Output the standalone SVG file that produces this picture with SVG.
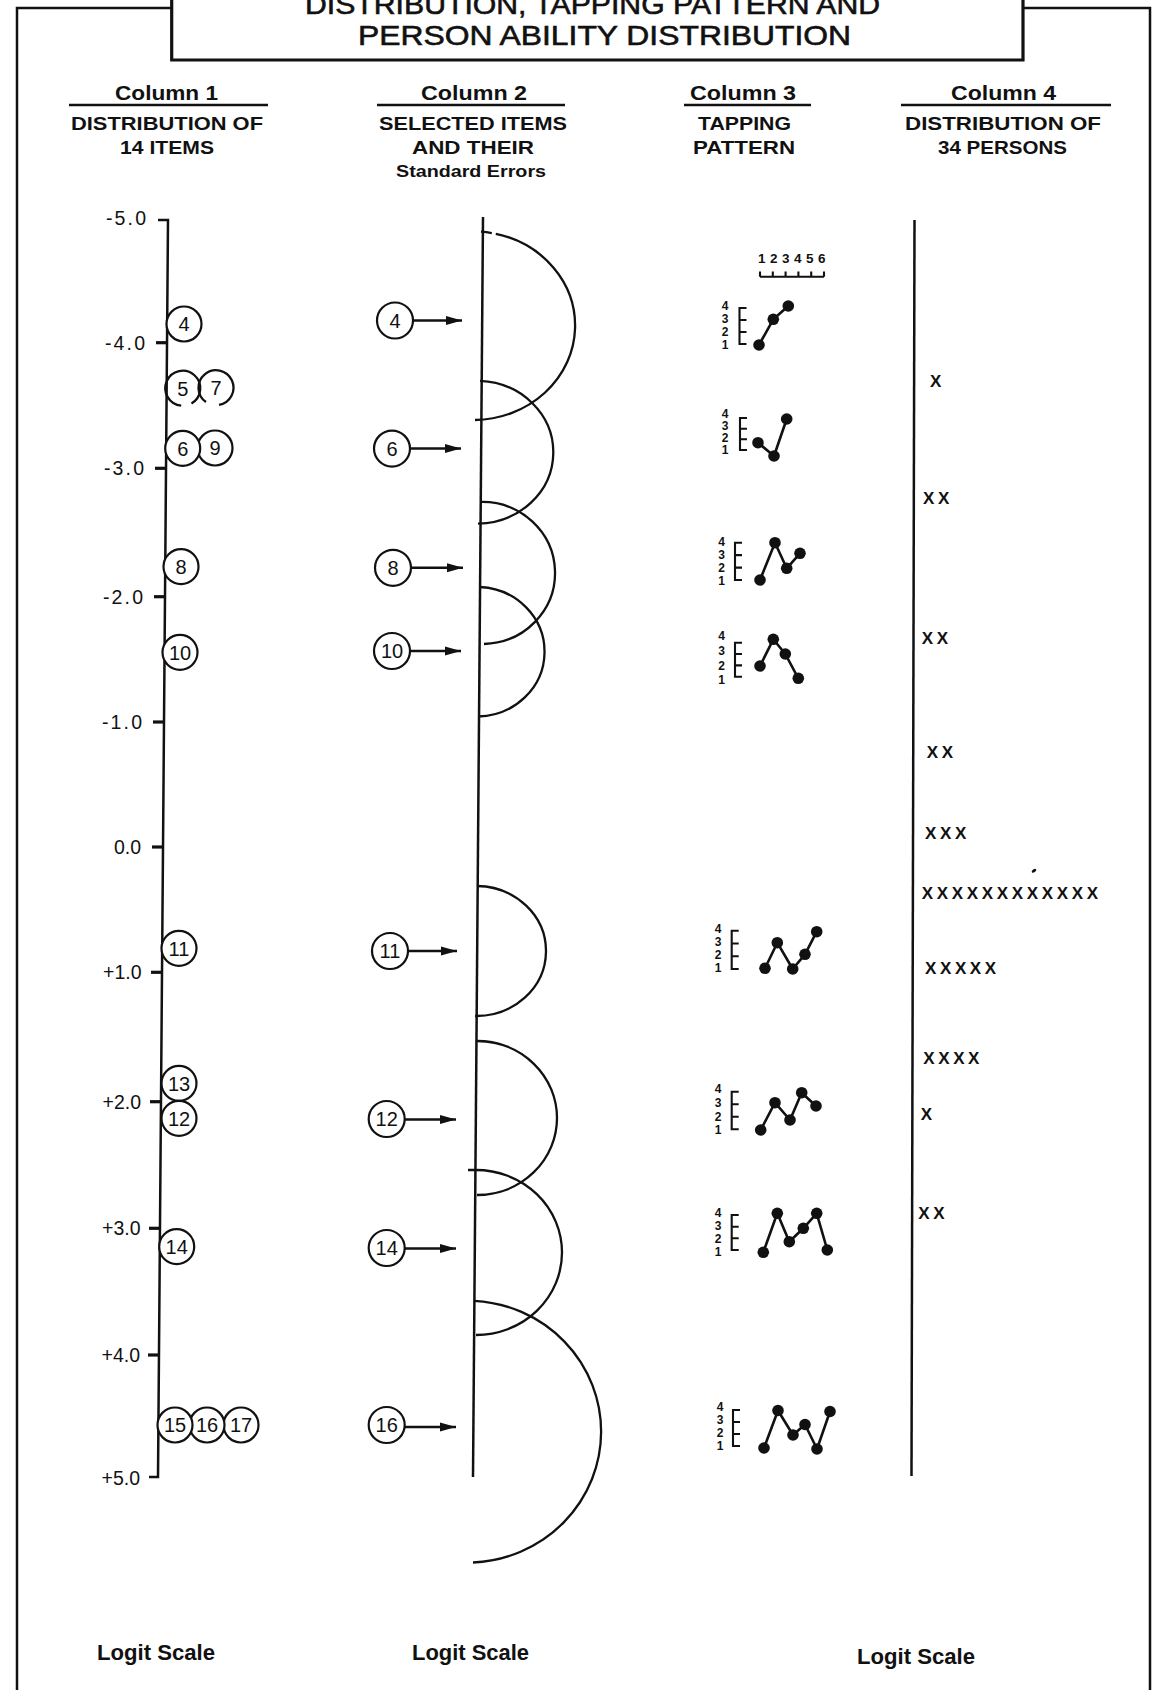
<svg xmlns="http://www.w3.org/2000/svg" width="1154" height="1690" viewBox="0 0 1154 1690">
<style>
text{font-family:"Liberation Sans",Arial,sans-serif;fill:#111}
.ttl{font-size:28px;stroke:#111;stroke-width:0.6}
.hd{font-size:21px;font-weight:bold}
.sub{font-size:18.5px;font-weight:bold}
.se{font-size:16px;font-weight:bold}
.ax{font-size:19.5px;text-anchor:end}
.num{font-size:20px;text-anchor:middle}
.dg{font-size:12px;font-weight:bold;text-anchor:middle}
.rl{font-size:13.5px;font-weight:bold;text-anchor:middle}
.xx{font-size:17px;font-weight:bold;letter-spacing:3.6px}
.ls{font-size:22px;font-weight:bold}
.ln{fill:none;stroke:#111;stroke-width:2.5}
.tick{fill:none;stroke:#111;stroke-width:3.2}
.thick{fill:none;stroke:#111;stroke-width:3.2}
.circ{fill:#fff;stroke:#111;stroke-width:2.2}
.arc{fill:none;stroke:#111;stroke-width:2.3}
.dot{fill:#111}
.pl{fill:none;stroke:#111;stroke-width:2.6;stroke-linejoin:round}
.br{fill:none;stroke:#111;stroke-width:2.1}
.arrow{fill:none;stroke:#111;stroke-width:2.5;marker-end:url(#ah)}
</style>
<defs>
<marker id="ah" markerUnits="userSpaceOnUse" markerWidth="18" markerHeight="10" refX="16" refY="5" orient="auto">
<path d="M0,0.5 L16,5 L0,9.5 z" fill="#111"/>
</marker>
</defs>
<rect width="1154" height="1690" fill="#fff"/>

<g id="frame">
<path class="ln" d="M17,1690 V8 H171.7"/>
<path class="ln" d="M1023,8 H1150 V1690"/>
<path class="thick" d="M171.7,-5 V60 H1023 V-5"/>
<text class="ttl" x="305" y="14" textLength="575" lengthAdjust="spacingAndGlyphs">DISTRIBUTION, TAPPING PATTERN AND</text>
<text class="ttl" x="358" y="45" textLength="493" lengthAdjust="spacingAndGlyphs">PERSON ABILITY DISTRIBUTION</text>
</g>

<g id="headers">
<text class="hd" x="115" y="100" textLength="103" lengthAdjust="spacingAndGlyphs">Column 1</text>
<line class="ln" x1="69" y1="105" x2="268" y2="105"/>
<text class="sub" x="71" y="130" textLength="192" lengthAdjust="spacingAndGlyphs">DISTRIBUTION OF</text>
<text class="sub" x="120" y="154" textLength="94" lengthAdjust="spacingAndGlyphs">14 ITEMS</text>

<text class="hd" x="421" y="100" textLength="106" lengthAdjust="spacingAndGlyphs">Column 2</text>
<line class="ln" x1="377" y1="105" x2="565" y2="105"/>
<text class="sub" x="379" y="130" textLength="188" lengthAdjust="spacingAndGlyphs">SELECTED ITEMS</text>
<text class="sub" x="412" y="154" textLength="122" lengthAdjust="spacingAndGlyphs">AND THEIR</text>
<text class="se" x="396" y="177" textLength="150" lengthAdjust="spacingAndGlyphs">Standard Errors</text>

<text class="hd" x="690" y="100" textLength="106" lengthAdjust="spacingAndGlyphs">Column 3</text>
<line class="ln" x1="684" y1="105" x2="811" y2="105"/>
<text class="sub" x="698" y="130" textLength="93" lengthAdjust="spacingAndGlyphs">TAPPING</text>
<text class="sub" x="693" y="154" textLength="102" lengthAdjust="spacingAndGlyphs">PATTERN</text>

<text class="hd" x="951" y="100" textLength="105" lengthAdjust="spacingAndGlyphs">Column 4</text>
<line class="ln" x1="901" y1="105" x2="1111" y2="105"/>
<text class="sub" x="905" y="130" textLength="196" lengthAdjust="spacingAndGlyphs">DISTRIBUTION OF</text>
<text class="sub" x="938" y="154" textLength="129" lengthAdjust="spacingAndGlyphs">34 PERSONS</text>
</g>

<g id="column1-axis">
<path class="ln" d="M158,220 H168 L158,1477 H149"/>
<line class="tick" x1="156" y1="342.7" x2="167" y2="342.7"/>
<line class="tick" x1="155" y1="468.3" x2="166" y2="468.3"/>
<line class="tick" x1="154" y1="596.7" x2="165" y2="596.7"/>
<line class="tick" x1="153" y1="722" x2="164" y2="722"/>
<line class="tick" x1="152" y1="847" x2="163" y2="847"/>
<line class="tick" x1="151" y1="972.3" x2="162" y2="972.3"/>
<line class="tick" x1="150" y1="1101.7" x2="161" y2="1101.7"/>
<line class="tick" x1="149" y1="1228.3" x2="160" y2="1228.3"/>
<line class="tick" x1="148" y1="1355" x2="159" y2="1355"/>
<text class="ax" x="146" y="225" textLength="40" lengthAdjust="spacing">-5.0</text>
<text class="ax" x="145" y="349.7" textLength="40" lengthAdjust="spacing">-4.0</text>
<text class="ax" x="144" y="475.3" textLength="40" lengthAdjust="spacing">-3.0</text>
<text class="ax" x="143" y="603.7" textLength="40" lengthAdjust="spacing">-2.0</text>
<text class="ax" x="142" y="729" textLength="40" lengthAdjust="spacing">-1.0</text>
<text class="ax" x="141" y="854">0.0</text>
<text class="ax" x="141.5" y="979.3">+1.0</text>
<text class="ax" x="141" y="1108.7">+2.0</text>
<text class="ax" x="140.5" y="1235.3">+3.0</text>
<text class="ax" x="140" y="1362">+4.0</text>
<text class="ax" x="140" y="1485">+5.0</text>
</g>

<g id="column1-items">
<g id="c1-4"><circle class="circ" cx="184" cy="324" r="17.5"/><text class="num" x="184" y="331.2">4</text></g>
<g id="c1-7"><path class="arc" d="M205.96,402.04 A17.5,17.5 0 1 1 219.04,404.93"/><text class="num" x="216" y="394.9">7</text></g>
<g id="c1-5"><path class="arc" d="M181.2,405.7 A17.5,17.5 0 1 1 191.45,403.46"/><text class="num" x="182.7" y="395.5">5</text></g>
<g id="c1-9"><circle class="circ" cx="215" cy="448" r="17.5"/><text class="num" x="215" y="455.2">9</text></g>
<g id="c1-6"><circle class="circ" cx="182.7" cy="448.3" r="17.5"/><text class="num" x="182.7" y="455.5">6</text></g>
<g id="c1-8"><circle class="circ" cx="181" cy="566.7" r="17.5"/><text class="num" x="181" y="573.9">8</text></g>
<g id="c1-10"><circle class="circ" cx="180" cy="652.3" r="17.5"/><text class="num" x="180" y="659.5">10</text></g>
<g id="c1-11"><circle class="circ" cx="179" cy="948.3" r="17.5"/><text class="num" x="179" y="955.5">11</text></g>
<g id="c1-13"><circle class="circ" cx="179" cy="1083.3" r="17.5"/><text class="num" x="179" y="1090.5">13</text></g>
<g id="c1-12"><circle class="circ" cx="179" cy="1118.3" r="17.5"/><text class="num" x="179" y="1125.5">12</text></g>
<g id="c1-14"><circle class="circ" cx="176.7" cy="1246.7" r="17.5"/><text class="num" x="176.7" y="1253.9">14</text></g>
<g id="c1-17"><circle class="circ" cx="241" cy="1425" r="17.5"/><text class="num" x="241" y="1432.2">17</text></g>
<g id="c1-16"><circle class="circ" cx="207" cy="1425" r="17.5"/><text class="num" x="207" y="1432.2">16</text></g>
<g id="c1-15"><circle class="circ" cx="175" cy="1425" r="17.5"/><text class="num" x="175" y="1432.2">15</text></g>
</g>

<g id="column2-axis">
<line class="ln" x1="483" y1="217" x2="473" y2="1477"/>
</g>

<g id="column2-errors">
<path class="arc" stroke-dasharray="11 4 3000" d="M481,231.7 A102,94.3 0 0 1 475,420"/>
<path class="arc" d="M480,380.8 A77,71.5 0 0 1 478,523.7"/>
<path class="arc" d="M480,502 A73,71 0 0 1 484,644"/>
<path class="arc" d="M480,587 A68,64.8 0 0 1 478,716.5"/>
<path class="arc" d="M477,886 A70,65 0 0 1 475,1016"/>
<path class="arc" d="M477,1041 A80,77 0 0 1 477,1195"/>
<path class="arc" d="M468,1170 H476 A86,82.5 0 0 1 476,1335"/>
<path class="arc" d="M474,1300.8 A134,131 0 0 1 473,1562.5"/>
</g>

<g id="column2-items">
<g id="c2-4"><circle class="circ" cx="395" cy="320.5" r="18"/><text class="num" x="395" y="327.7">4</text></g>
<g id="c2-6"><circle class="circ" cx="392" cy="448.6" r="18"/><text class="num" x="392" y="455.8">6</text></g>
<g id="c2-8"><circle class="circ" cx="393" cy="567.8" r="18"/><text class="num" x="393" y="575">8</text></g>
<g id="c2-10"><circle class="circ" cx="392" cy="651" r="18"/><text class="num" x="392" y="658.2">10</text></g>
<g id="c2-11"><circle class="circ" cx="390" cy="951" r="18"/><text class="num" x="390" y="958.2">11</text></g>
<g id="c2-12"><circle class="circ" cx="386.7" cy="1119" r="18"/><text class="num" x="386.7" y="1126.2">12</text></g>
<g id="c2-14"><circle class="circ" cx="386.7" cy="1248" r="18"/><text class="num" x="386.7" y="1255.2">14</text></g>
<g id="c2-16"><circle class="circ" cx="386.7" cy="1425" r="18"/><text class="num" x="386.7" y="1432.2">16</text></g>
</g>

<g id="connectors">
<line class="arrow" x1="413" y1="320.5" x2="462" y2="320.5"/>
<line class="arrow" x1="410" y1="448.6" x2="461" y2="448.6"/>
<line class="arrow" x1="411" y1="567.8" x2="463" y2="567.8"/>
<line class="arrow" x1="410" y1="651" x2="461" y2="651"/>
<line class="arrow" x1="408" y1="951" x2="457" y2="951"/>
<line class="arrow" x1="404.7" y1="1119.5" x2="456" y2="1119.5"/>
<line class="arrow" x1="404.7" y1="1248.5" x2="456" y2="1248.5"/>
<line class="arrow" x1="404.7" y1="1427" x2="456" y2="1427"/>
</g>

<g id="column3-ruler">
<text class="rl" x="761.7" y="263">1</text>
<text class="rl" x="773.7" y="263">2</text>
<text class="rl" x="785.7" y="263">3</text>
<text class="rl" x="797.7" y="263">4</text>
<text class="rl" x="809.7" y="263">5</text>
<text class="rl" x="821.7" y="263">6</text>
<path class="br" d="M760,276.7 H824 M760,271.5 V276.7 M772.8,271.5 V276.7 M785.6,271.5 V276.7 M798.4,271.5 V276.7 M811.2,271.5 V276.7 M824,271.5 V276.7"/>
</g>

<g id="pattern-4">
<text class="dg" x="725" y="310.3">4</text><text class="dg" x="725" y="323.3">3</text><text class="dg" x="725" y="336.3">2</text><text class="dg" x="725" y="349.3">1</text>
<path class="br" d="M746.5,308 H739.5 V344 H746.5 M739.5,320 H746.5 M739.5,332 H746.5"/>
<polyline class="pl" points="759,345 773.3,319.3 788.3,306"/>
<circle class="dot" cx="759" cy="345" r="5.8"/><circle class="dot" cx="773.3" cy="319.3" r="5.8"/><circle class="dot" cx="788.3" cy="306" r="5.8"/>
</g>

<g id="pattern-6">
<text class="dg" x="725" y="418.3">4</text><text class="dg" x="725" y="430.3">3</text><text class="dg" x="725" y="442.3">2</text><text class="dg" x="725" y="454.3">1</text>
<path class="br" d="M747,418 H740 V450 H747 M740,428.7 H747 M740,439.3 H747"/>
<polyline class="pl" points="758,442.7 774,456 786.7,419"/>
<circle class="dot" cx="758" cy="442.7" r="5.8"/><circle class="dot" cx="774" cy="456" r="5.8"/><circle class="dot" cx="786.7" cy="419" r="5.8"/>
</g>

<g id="pattern-8">
<text class="dg" x="721.7" y="546">4</text><text class="dg" x="721.7" y="559.1">3</text><text class="dg" x="721.7" y="572.2">2</text><text class="dg" x="721.7" y="585.3">1</text>
<path class="br" d="M742,542.7 H735 V580 H742 M735,555.1 H742 M735,567.6 H742"/>
<polyline class="pl" points="760,580 775,542.7 786.7,568.3 800,553.3"/>
<circle class="dot" cx="760" cy="580" r="5.8"/><circle class="dot" cx="775" cy="542.7" r="5.8"/><circle class="dot" cx="786.7" cy="568.3" r="5.8"/><circle class="dot" cx="800" cy="553.3" r="5.8"/>
</g>

<g id="pattern-10">
<text class="dg" x="721.7" y="640.3">4</text><text class="dg" x="721.7" y="655">3</text><text class="dg" x="721.7" y="669.6">2</text><text class="dg" x="721.7" y="684.3">1</text>
<path class="br" d="M742,642.7 H735 V676.7 H742 M735,654 H742 M735,665.4 H742"/>
<polyline class="pl" points="760,666 773.3,639.3 785.3,654 798.3,678.3"/>
<circle class="dot" cx="760" cy="666" r="5.8"/><circle class="dot" cx="773.3" cy="639.3" r="5.8"/><circle class="dot" cx="785.3" cy="654" r="5.8"/><circle class="dot" cx="798.3" cy="678.3" r="5.8"/>
</g>

<g id="pattern-11">
<text class="dg" x="718" y="933.3">4</text><text class="dg" x="718" y="946.3">3</text><text class="dg" x="718" y="959.3">2</text><text class="dg" x="718" y="972.3">1</text>
<path class="br" d="M738.7,930.7 H731.7 V969 H738.7 M731.7,943.5 H738.7 M731.7,956.2 H738.7"/>
<polyline class="pl" points="765,968.3 777.3,942.7 792.7,969 805,954.3 816.7,931.7"/>
<circle class="dot" cx="765" cy="968.3" r="5.8"/><circle class="dot" cx="777.3" cy="942.7" r="5.8"/><circle class="dot" cx="792.7" cy="969" r="5.8"/><circle class="dot" cx="805" cy="954.3" r="5.8"/><circle class="dot" cx="816.7" cy="931.7" r="5.8"/>
</g>

<g id="pattern-12">
<text class="dg" x="718" y="1093.3">4</text><text class="dg" x="718" y="1107">3</text><text class="dg" x="718" y="1120.6">2</text><text class="dg" x="718" y="1134.3">1</text>
<path class="br" d="M738.7,1091.7 H731.7 V1129.3 H738.7 M731.7,1104.2 H738.7 M731.7,1116.8 H738.7"/>
<polyline class="pl" points="760.7,1130 775,1102.7 790,1120 801.7,1092.7 816,1106"/>
<circle class="dot" cx="760.7" cy="1130" r="5.8"/><circle class="dot" cx="775" cy="1102.7" r="5.8"/><circle class="dot" cx="790" cy="1120" r="5.8"/><circle class="dot" cx="801.7" cy="1092.7" r="5.8"/><circle class="dot" cx="816" cy="1106" r="5.8"/>
</g>

<g id="pattern-14">
<text class="dg" x="718" y="1217">4</text><text class="dg" x="718" y="1230">3</text><text class="dg" x="718" y="1243">2</text><text class="dg" x="718" y="1256">1</text>
<path class="br" d="M738.7,1215 H731.7 V1250 H738.7 M731.7,1226.7 H738.7 M731.7,1238.3 H738.7"/>
<polyline class="pl" points="763.3,1252.3 777.3,1213.3 789.3,1241.7 803.3,1228.3 816.7,1213.3 827.3,1250"/>
<circle class="dot" cx="763.3" cy="1252.3" r="5.8"/><circle class="dot" cx="777.3" cy="1213.3" r="5.8"/><circle class="dot" cx="789.3" cy="1241.7" r="5.8"/><circle class="dot" cx="803.3" cy="1228.3" r="5.8"/><circle class="dot" cx="816.7" cy="1213.3" r="5.8"/><circle class="dot" cx="827.3" cy="1250" r="5.8"/>
</g>

<g id="pattern-16">
<text class="dg" x="720" y="1411">4</text><text class="dg" x="720" y="1424.1">3</text><text class="dg" x="720" y="1437.2">2</text><text class="dg" x="720" y="1450.3">1</text>
<path class="br" d="M740,1410 H733 V1446 H740 M733,1422 H740 M733,1434 H740"/>
<polyline class="pl" points="764,1448 778,1410.5 793,1435 805,1424.5 817,1449 830,1411.5"/>
<circle class="dot" cx="764" cy="1448" r="5.8"/><circle class="dot" cx="778" cy="1410.5" r="5.8"/><circle class="dot" cx="793" cy="1435" r="5.8"/><circle class="dot" cx="805" cy="1424.5" r="5.8"/><circle class="dot" cx="817" cy="1449" r="5.8"/><circle class="dot" cx="830" cy="1411.5" r="5.8"/>
</g>

<g id="column4">
<line class="ln" x1="914.5" y1="220" x2="911.5" y2="1476"/>
<text class="xx" x="930" y="386.8">X</text>
<text class="xx" x="923" y="504">XX</text>
<text class="xx" x="921.7" y="644">XX</text>
<text class="xx" x="926.7" y="758">XX</text>
<text class="xx" x="925" y="839">XXX</text>
<ellipse cx="1034" cy="870.7" rx="2.6" ry="1.5" transform="rotate(-35 1034 870.7)" fill="#111"/>
<text class="xx" x="921.7" y="899" textLength="180" lengthAdjust="spacing">XXXXXXXXXXXX</text>
<text class="xx" x="925" y="973.5">XXXXX</text>
<text class="xx" x="923.3" y="1063.5">XXXX</text>
<text class="xx" x="920.7" y="1119.5">X</text>
<text class="xx" x="918.3" y="1219">XX</text>
</g>

<g id="footer">
<text class="ls" x="97" y="1660" textLength="118" lengthAdjust="spacingAndGlyphs">Logit Scale</text>
<text class="ls" x="412" y="1660" textLength="117" lengthAdjust="spacingAndGlyphs">Logit Scale</text>
<text class="ls" x="857" y="1664" textLength="118" lengthAdjust="spacingAndGlyphs">Logit Scale</text>
</g>
</svg>
